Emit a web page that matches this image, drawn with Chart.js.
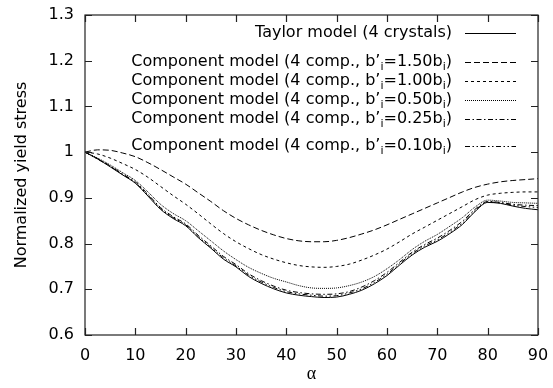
<!DOCTYPE html>
<html><head><meta charset="utf-8">
<script src="https://cdn.jsdelivr.net/npm/chart.js@4/dist/chart.umd.min.js"></script>
<style>html,body{margin:0;padding:0;background:#fff}</style>
</head><body>
<canvas id="c" width="553" height="388"></canvas>
<script>
// ---- data ----
const alpha = [0,2.5,5,7.5,10,12.5,15,17.5,20,22.5,25,27.5,30,32.5,35,37.5,40,42.5,45,47.5,50,52.5,55,57.5,60,62.5,65,67.5,70,72.5,75,77.5,80,82.5,85,87.5,90];
const taylor = [1.000,0.985,0.968,0.950,0.932,0.904,0.875,0.855,0.839,0.813,0.790,0.766,0.749,0.728,0.713,0.701,0.692,0.687,0.684,0.682,0.683,0.689,0.698,0.712,0.730,0.753,0.775,0.792,0.805,0.822,0.842,0.870,0.890,0.888,0.882,0.877,0.874];
const comp150 = [1.000,1.005,1.004,0.998,0.990,0.977,0.962,0.946,0.930,0.911,0.892,0.872,0.855,0.841,0.829,0.819,0.811,0.806,0.804,0.804,0.807,0.813,0.821,0.830,0.841,0.853,0.865,0.877,0.889,0.901,0.913,0.923,0.930,0.935,0.938,0.940,0.942];
const comp100 = [1.000,0.996,0.987,0.975,0.962,0.945,0.925,0.905,0.886,0.865,0.843,0.822,0.804,0.789,0.776,0.766,0.758,0.752,0.749,0.748,0.750,0.755,0.764,0.775,0.788,0.804,0.821,0.836,0.851,0.866,0.881,0.896,0.906,0.910,0.912,0.913,0.913];
const comp050 = [1.000,0.987,0.972,0.955,0.938,0.913,0.886,0.866,0.850,0.828,0.806,0.784,0.765,0.748,0.735,0.724,0.716,0.708,0.703,0.702,0.703,0.708,0.716,0.728,0.745,0.765,0.787,0.805,0.820,0.838,0.857,0.880,0.895,0.893,0.890,0.889,0.888];
const comp025 = [1.000,0.986,0.970,0.952,0.935,0.908,0.879,0.859,0.843,0.818,0.795,0.772,0.754,0.734,0.719,0.707,0.698,0.693,0.690,0.689,0.690,0.695,0.705,0.719,0.737,0.759,0.781,0.798,0.812,0.829,0.849,0.875,0.892,0.890,0.886,0.884,0.883];
const comp010 = [1.000,0.985,0.969,0.951,0.933,0.906,0.877,0.857,0.841,0.815,0.792,0.769,0.751,0.731,0.716,0.704,0.695,0.690,0.687,0.685,0.686,0.692,0.701,0.715,0.733,0.756,0.778,0.795,0.808,0.825,0.845,0.872,0.891,0.889,0.884,0.881,0.879];
const seriesLabels = [
  "Taylor model (4 crystals)",
  "Component model (4 comp., b\u2019_i=1.50b_i)",
  "Component model (4 comp., b\u2019_i=1.00b_i)",
  "Component model (4 comp., b\u2019_i=0.50b_i)",
  "Component model (4 comp., b\u2019_i=0.25b_i)",
  "Component model (4 comp., b\u2019_i=0.10b_i)"
];
const xTicks = [0,10,20,30,40,50,60,70,80,90];
const yTicks = [0.6,0.7,0.8,0.9,1.0,1.1,1.2,1.3];
const xTitle = "\u03b1";
const yTitle = "Normalized yield stress";

// ---- styles ----
const allSeries = [taylor, comp150, comp100, comp050, comp025, comp010];
const dashes = [[], [6,3], [3,3], [1,1], [5,2.5,1.5,2.5], [5,2.5,1.5,2.5,1.5,2.5]];
const legendRowY = [33, 62, 81, 100, 119, 146];
const FONT = "'DejaVu Sans', Verdana, sans-serif";

const datasets = allSeries.map((vals, k) => ({
  label: seriesLabels[k],
  data: alpha.map((a, i) => ({x: a, y: vals[i]})),
  borderColor: '#000',
  borderWidth: 1,
  borderDash: dashes[k],
  pointRadius: 0,
  fill: false,
  cubicInterpolationMode: 'monotone'
}));

function drawRich(ctx, text, rightX, y) {
  const parts = text.split(/(_i)/);
  const main = "16px " + FONT, sub = "11px " + FONT;
  let w = 0;
  parts.forEach(p => { if (p === '_i') { ctx.font = sub; w += ctx.measureText('i').width; } else { ctx.font = main; w += ctx.measureText(p).width; } });
  let x = rightX - w;
  ctx.textAlign = 'left';
  ctx.textBaseline = 'middle';
  parts.forEach(p => {
    if (p === '_i') { ctx.font = sub; ctx.fillText('i', x, y + 5); x += ctx.measureText('i').width; }
    else { ctx.font = main; ctx.fillText(p, x, y); x += ctx.measureText(p).width; }
  });
}

const framePlugin = {
  id: 'frame',
  afterDatasetsDraw(chart) {
    const {ctx, chartArea: a, scales: {x, y}} = chart;
    ctx.save();
    ctx.strokeStyle = '#222';
    ctx.lineWidth = 1.2;
    ctx.setLineDash([]);
    ctx.strokeRect(a.left, a.top, a.right - a.left, a.bottom - a.top);
    const L = 7;
    ctx.beginPath();
    xTicks.forEach(v => {
      const px = Math.round(x.getPixelForValue(v)) + 0.5;
      ctx.moveTo(px, a.bottom); ctx.lineTo(px, a.bottom - L);
      ctx.moveTo(px, a.top); ctx.lineTo(px, a.top + L);
    });
    yTicks.forEach(v => {
      const py = Math.round(y.getPixelForValue(v)) + 0.5;
      ctx.moveTo(a.left, py); ctx.lineTo(a.left + L, py);
      ctx.moveTo(a.right, py); ctx.lineTo(a.right - L, py);
    });
    ctx.stroke();
    // legend
    ctx.fillStyle = '#000';
    ctx.strokeStyle = '#000';
    ctx.lineWidth = 1;
    chart.data.datasets.forEach((ds, k) => {
      const ry = legendRowY[k];
      drawRich(ctx, ds.label, 452, ry);
      ctx.setLineDash(ds.borderDash);
      ctx.beginPath();
      ctx.moveTo(465, ry + 0.5); ctx.lineTo(516, ry + 0.5);
      ctx.stroke();
    });
    ctx.restore();
  }
};

new Chart(document.getElementById('c'), {
  type: 'line',
  data: { datasets },
  options: {
    responsive: false,
    animation: false,
    devicePixelRatio: 1,
    layout: { padding: { left: 0, top: 15, right: 15, bottom: 0 } },
    plugins: { legend: { display: false }, tooltip: { enabled: false } },
    scales: {
      x: {
        type: 'linear', min: 0, max: 90,
        afterBuildTicks(s) { s.ticks = xTicks.map(v => ({value: v})); },
        afterFit(s) { s.height = 53; s.paddingLeft = 0; s.paddingRight = 0; },
        grid: { display: false, drawTicks: false },
        border: { display: false },
        ticks: { padding: 11, color: '#000', font: { size: 16, family: FONT }, maxRotation: 0 },
        title: { display: true, text: xTitle, color: '#000', font: { size: 18, family: "'Liberation Serif', 'DejaVu Serif', serif" }, padding: { top: 0, bottom: 3 } }
      },
      y: {
        type: 'linear', min: 0.6, max: 1.3,
        afterBuildTicks(s) { s.ticks = yTicks.map(v => ({value: v})); },
        afterFit(s) { s.width = 85; s.paddingTop = 0; s.paddingBottom = 0; },
        grid: { display: false, drawTicks: false },
        border: { display: false },
        ticks: { padding: 11, color: '#000', font: { size: 16, family: FONT }, callback: v => String(Number(v.toFixed(1))) },
        title: { display: true, text: yTitle, color: '#000', font: { size: 16, family: FONT }, padding: { top: 12, bottom: 0 } }
      }
    }
  },
  plugins: [framePlugin]
});
</script>
</body></html>
